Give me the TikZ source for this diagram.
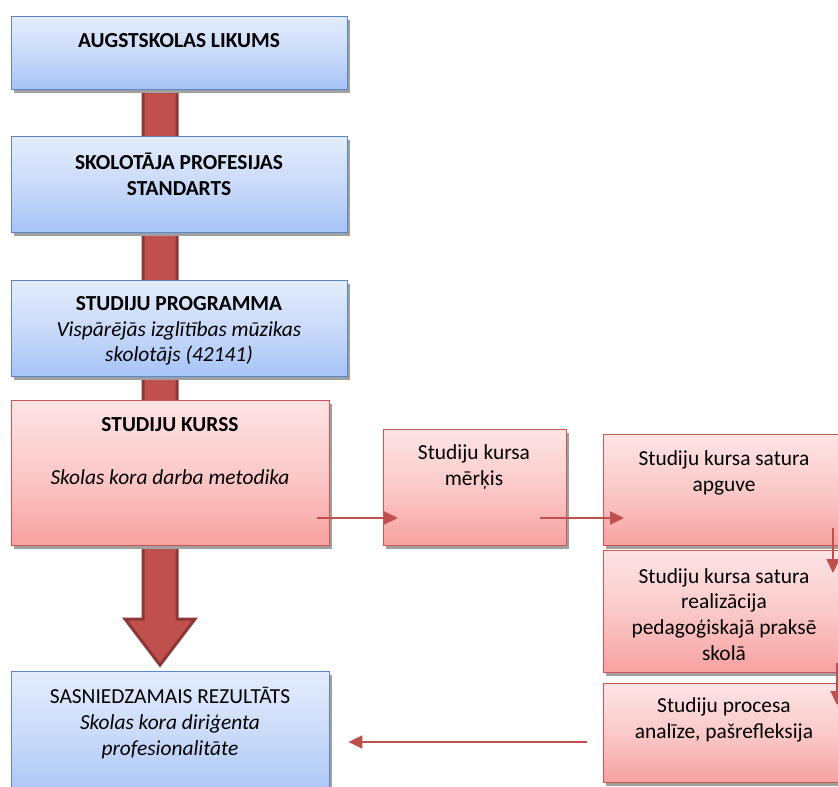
\documentclass[tikz,border=0pt]{standalone}
\usepackage{fontspec}
\setmainfont{Carlito}
\usetikzlibrary{arrows.meta,shadows,calc}
\definecolor{bluetop}{HTML}{E4ECFC}
\definecolor{bluemid}{HTML}{C9DAF9}
\definecolor{bluebot}{HTML}{A6C3F6}
\definecolor{blueline}{HTML}{5A87C8}
\definecolor{redtop}{HTML}{FDE4E4}
\definecolor{redmid}{HTML}{FBC9C9}
\definecolor{redbot}{HTML}{F6A19F}
\definecolor{redline}{HTML}{CD5553}
\definecolor{arrowfill}{HTML}{C0504D}
\definecolor{arrowedge}{HTML}{8C3836}
\definecolor{shadowgray}{HTML}{A0A0A0}
\tikzset{
  box/.style={rectangle, anchor=north west, inner sep=0pt, line width=1.4pt,
    drop shadow={shadow xshift=2pt, shadow yshift=-3.5pt, fill=shadowgray, opacity=1}},
  bluebox/.style={box, draw=blueline, top color=bluetop, bottom color=bluebot, middle color=bluemid},
  redbox/.style={box, draw=redline, top color=redtop, bottom color=redbot, middle color=redmid},
  txt/.style={align=center, font=\fontsize{21.4}{25.8}\selectfont, inner sep=0pt},
  flow/.style={draw=arrowfill, line width=2pt, -{Triangle[length=14pt,width=13pt]}},
}
\begin{document}
\begin{tikzpicture}[x=1pt,y=-1pt]
\clip (0,0) rectangle (838,787);
\fill[white] (0,0) rectangle (838,787);

% main block arrow running down the left column
\draw[fill=arrowfill, draw=arrowedge, line width=3pt, line join=miter]
  (143,85) -- (177,85) -- (177,619) -- (195,619) -- (160,665) -- (125,619) -- (143,619) -- cycle;

% left column boxes
\node[bluebox, minimum width=336, minimum height=73] (b1) at (11,16) {};
\node[bluebox, minimum width=336, minimum height=96] (b2) at (11,136) {};
\node[bluebox, minimum width=336, minimum height=96] (b3) at (11,280) {};
\node[redbox, minimum width=318, minimum height=145] (kurss) at (11,400) {};
\node[bluebox, minimum width=318, minimum height=130] (rez) at (11,671) {};

% right side boxes
\node[redbox, minimum width=183, minimum height=116] (merkis) at (383,429) {};
\node[redbox, minimum width=242, minimum height=111] (apguve) at (603,434) {};
\node[redbox, minimum width=242, minimum height=122] (realiz) at (603,550) {};
\node[redbox, minimum width=242, minimum height=99] (anal) at (603,683) {};

% texts
\node[txt] (t1) at (179,41) {\textbf{AUGSTSKOLAS LIKUMS}};
\node[txt] (t2) at (179,174.5) {\textbf{SKOLOTĀJA PROFESIJAS}\\\textbf{STANDARTS}};
\node[txt] (t3) at (179,331) {\textbf{STUDIJU PROGRAMMA}\\\textit{Vispārējās izglītības mūzikas}\\\textit{skolotājs (42141)}};
\node[txt] (t4) at (170,425) {\textbf{STUDIJU KURSS}};
\node[txt] (t5) at (170,477) {\textit{Skolas kora darba metodika}};
\node[txt] (t6) at (170,723) {SASNIEDZAMAIS REZULTĀTS\\\textit{Skolas kora diriģenta}\\\textit{profesionalitāte}};
\node[txt] (t7) at (474,467) {Studiju kursa\\mērķis};
\node[txt] (t8) at (724,473) {Studiju kursa satura\\apguve};
\node[txt] (t9) at (724,614.5) {Studiju kursa satura\\realizācija\\pedagoģiskajā praksē\\skolā};
\node[txt] (t10) at (724,720) {Studiju procesa\\analīze, pašrefleksija};

% connector end points
\coordinate (a1s) at ($(kurss.north east)+(-13,118)$);
\coordinate (a1e) at ($(merkis.north west)+(15,89)$);
\coordinate (a2s) at ($(merkis.north east)+(-27,89)$);
\coordinate (a2e) at ($(apguve.north west)+(21,84)$);
\coordinate (a3s) at ($(apguve.north west)+(230,94)$);
\coordinate (a3e) at ($(realiz.north west)+(230,23)$);
\coordinate (a4s) at ($(realiz.north west)+(234,113)$);
\coordinate (a4e) at ($(anal.north west)+(234,22)$);
\coordinate (a5s) at ($(anal.north west)+(-16,59)$);
\coordinate (a5e) at ($(rez.north east)+(18,71)$);

\draw[flow] (a1s) -- (a1e);
\draw[flow] (a2s) -- (a2e);
\draw[flow] (a3s) -- (a3e);
\draw[flow] (a4s) -- (a4e);
\draw[flow] (a5s) -- (a5e);
\end{tikzpicture}
\end{document}
